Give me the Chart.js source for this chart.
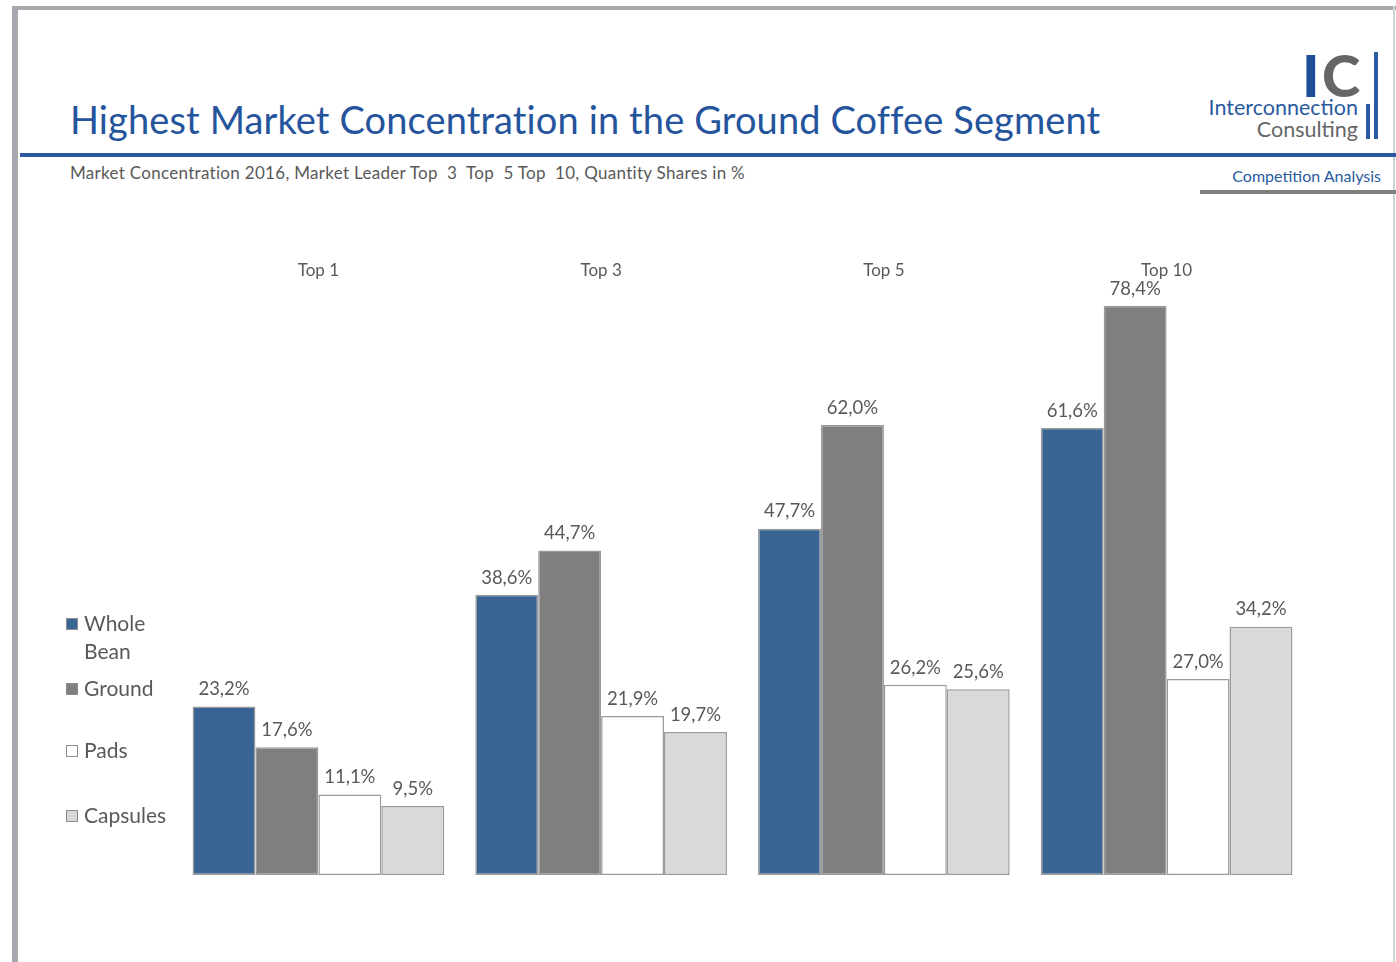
<!DOCTYPE html>
<html>
<head>
<meta charset="utf-8">
<script src="https://cdn.jsdelivr.net/npm/chart.js@4"></script>
<style>
  body { margin: 0; width: 1396px; height: 962px; background: #fff; overflow: hidden; font-family: Lato, "Open Sans", sans-serif; position: relative; }
  .abs { position: absolute; }
  #frameTop { left: 12px; top: 6px; width: 1384px; height: 4px; background: #a6aaae; }
  #frameLeft { left: 12px; top: 6px; width: 6px; height: 956px; background: #a6aaae; }
  #frameRight { left: 1393px; top: 6px; width: 2px; height: 956px; background: #d0d2d4; }
  #title { left: 70px; top: 96px; font-size: 38px; color: #24549c; white-space: nowrap; letter-spacing: 0.12px; }
  #blueLine { left: 20px; top: 153px; width: 1376px; height: 4px; background: #2a5aa0; }
  #subtitle { left: 70px; top: 162px; font-size: 17px; color: #595959; white-space: nowrap; letter-spacing: 0.3px; }
  #logoI { left: 1302px; top: 40px; font-size: 58px; font-weight: 900; color: #1f4e99; }
  #logoC { left: 1322px; top: 40px; font-size: 58px; font-weight: 900; color: #666; }
  #bar1 { left: 1374px; top: 52px; width: 4px; height: 87px; background: #2a5aa0; }
  #bar2 { left: 1366px; top: 104px; width: 4px; height: 35px; background: #2a5aa0; }
  #inter { left: 1180px; top: 94px; width: 178px; text-align: right; font-size: 21.5px; color: #2a5aa0; }
  #cons { left: 1180px; top: 116px; width: 178px; text-align: right; font-size: 21.5px; color: #666; }
  #comp { left: 1180px; top: 166px; width: 201px; text-align: right; font-size: 16px; color: #2a5aa0; }
  #grayLine { left: 1200px; top: 190px; width: 196px; height: 4px; background: #7f7f7f; }
  #wrap { left: 0; top: 0; width: 1396px; height: 962px; }
</style>
</head>
<body>
<div class="abs" id="frameTop"></div>
<div class="abs" id="frameLeft"></div>
<div class="abs" id="frameRight"></div>
<div class="abs" id="title">Highest Market Concentration in the Ground Coffee Segment</div>
<div class="abs" id="blueLine"></div>
<div class="abs" id="subtitle">Market Concentration 2016, Market Leader Top&nbsp; 3&nbsp; Top&nbsp; 5 Top&nbsp; 10, Quantity Shares in %</div>
<div class="abs" id="logoI">I</div>
<div class="abs" id="logoC">C</div>
<div class="abs" id="bar1"></div>
<div class="abs" id="bar2"></div>
<div class="abs" id="inter">Interconnection</div>
<div class="abs" id="cons">Consulting</div>
<div class="abs" id="comp">Competition Analysis</div>
<div class="abs" id="grayLine"></div>
<div class="abs" id="wrap"><canvas id="chart" width="1396" height="962"></canvas></div>
<script>
  var categories = ['Top 1', 'Top 3', 'Top 5', 'Top 10'];
  var wholeBean = [23.2, 38.6, 47.7, 61.6];
  var ground = [17.6, 44.7, 62.0, 78.4];
  var pads = [11.1, 21.9, 26.2, 27.0];
  var capsules = [9.5, 19.7, 25.6, 34.2];
  var seriesNames = [['Whole', 'Bean'], ['Ground'], ['Pads'], ['Capsules']];
  var colores = ['#3a6493', '#7f7f7f', '#ffffff', '#d9d9d9'];

  var textColor = '#595959';
  var fontFam = 'Lato, "Open Sans", sans-serif';

  function fmt(v) {
    return v.toFixed(1).replace('.', ',') + '%';
  }

  // labels over each bar
  var barLabels = {
    id: 'barLabels',
    afterDatasetsDraw: function (chart) {
      var ctx = chart.ctx;
      ctx.save();
      ctx.font = '18.5px ' + fontFam;
      ctx.fillStyle = textColor;
      ctx.textAlign = 'center';
      ctx.textBaseline = 'bottom';
      chart.data.datasets.forEach(function (ds, i) {
        chart.getDatasetMeta(i).data.forEach(function (bar, j) {
          ctx.fillText(fmt(ds.data[j]), bar.x, bar.y - 8);
        });
      });
      ctx.restore();
    }
  };

  // legend on the left, one entry per series
  var sideLegend = {
    id: 'sideLegend',
    afterDraw: function (chart) {
      var ctx = chart.ctx;
      var ys = [624, 689, 751, 816];
      ctx.save();
      ctx.font = '21px ' + fontFam;
      ctx.textBaseline = 'middle';
      ctx.textAlign = 'left';
      chart.data.datasets.forEach(function (ds, i) {
        var y = ys[i];
        ctx.fillStyle = ds.backgroundColor;
        ctx.fillRect(66, y - 6, 12, 12);
        ctx.strokeStyle = '#8c8c8c';
        ctx.lineWidth = 1;
        ctx.strokeRect(66.5, y - 5.5, 11, 11);
        ctx.fillStyle = textColor;
        seriesNames[i].forEach(function (line, k) {
          ctx.fillText(line, 84, y + k * 28);
        });
      });
      ctx.restore();
    }
  };

  function makeDataset(idx, values) {
    return {
      label: seriesNames[idx].join(' '),
      data: values,
      backgroundColor: colores[idx],
      borderColor: '#9a9a9a',
      borderWidth: 1.5,
      borderSkipped: false
    };
  }

  var ctx = document.getElementById('chart');
  var grafico = new Chart(ctx, {
    type: 'bar',
    data: {
      labels: categories,
      datasets: [
        makeDataset(0, wholeBean),
        makeDataset(1, ground),
        makeDataset(2, pads),
        makeDataset(3, capsules)
      ]
    },
    options: {
      responsive: false,
      animation: false,
      layout: {
        padding: { top: 257, bottom: 87, left: 177, right: 88 }
      },
      plugins: {
        legend: false,
        tooltip: { enabled: false }
      },
      datasets: {
        bar: { categoryPercentage: 0.89, barPercentage: 1.0 }
      },
      scales: {
        x: {
          position: 'top',
          grid: { display: false, drawTicks: false },
          border: { display: false },
          afterFit: function (axis) { axis.height = 30; },
          ticks: {
            color: textColor,
            padding: 6,
            font: { family: fontFam, size: 17 }
          }
        },
        y: {
          display: false,
          min: 0,
          max: 81.0
        }
      }
    },
    plugins: [barLabels, sideLegend]
  });
</script>
</body>
</html>
